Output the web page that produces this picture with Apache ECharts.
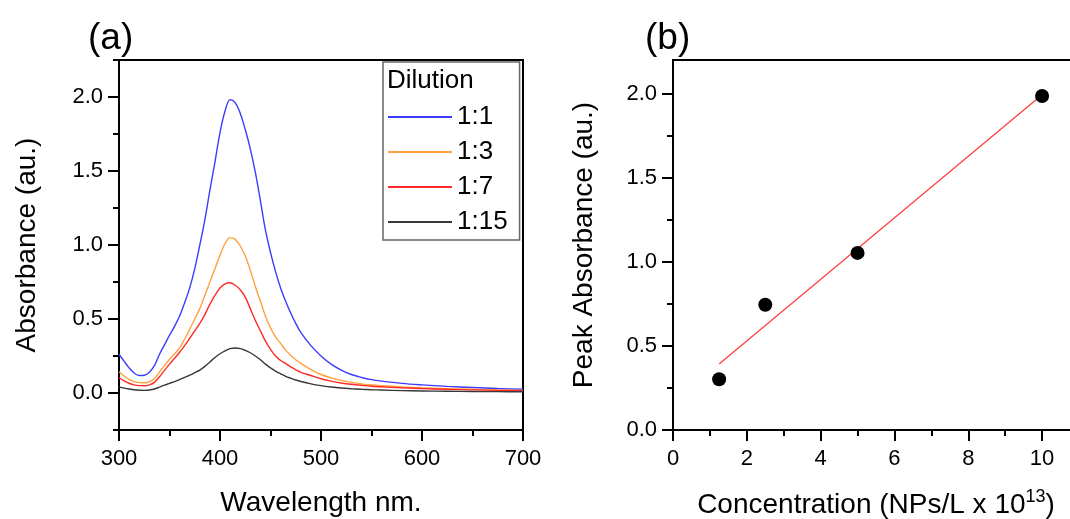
<!DOCTYPE html>
<html>
<head>
<meta charset="utf-8">
<script src="https://cdn.jsdelivr.net/npm/echarts@6/dist/echarts.min.js"></script>
<style>
html,body{margin:0;padding:0;background:#fff;}
#chart{width:1070px;height:519px;}
</style>
</head>
<body>
<div id="chart"></div>
<script>
// ---- Data ----
const wavelength = [300,305,310,315,320,325,330,335,340,345,350,355,360,365,370,375,380,385,390,395,400,405,410,415,420,425,430,435,440,445,450,455,460,465,470,475,480,490,500,510,520,530,540,550,560,580,600,625,650,675,700];
const dil1 = [0.262,0.215,0.170,0.135,0.118,0.120,0.140,0.185,0.260,0.325,0.390,0.450,0.520,0.610,0.710,0.840,1.000,1.170,1.370,1.560,1.760,1.905,1.982,1.962,1.890,1.780,1.650,1.490,1.300,1.100,0.950,0.820,0.710,0.620,0.540,0.470,0.410,0.320,0.250,0.195,0.155,0.125,0.105,0.090,0.080,0.065,0.055,0.045,0.037,0.030,0.025];
const dil3 = [0.143,0.115,0.092,0.077,0.070,0.069,0.076,0.097,0.140,0.185,0.228,0.265,0.305,0.365,0.430,0.500,0.570,0.660,0.750,0.840,0.930,1.010,1.050,1.038,0.995,0.925,0.830,0.720,0.620,0.520,0.440,0.380,0.335,0.290,0.255,0.225,0.200,0.158,0.125,0.102,0.085,0.072,0.062,0.055,0.049,0.041,0.035,0.029,0.025,0.021,0.018];
const dil7 = [0.103,0.082,0.066,0.055,0.050,0.049,0.055,0.072,0.108,0.153,0.195,0.235,0.275,0.320,0.370,0.420,0.470,0.530,0.600,0.660,0.710,0.738,0.745,0.728,0.698,0.648,0.570,0.490,0.420,0.350,0.295,0.250,0.220,0.200,0.176,0.157,0.140,0.118,0.096,0.080,0.068,0.059,0.052,0.046,0.042,0.035,0.030,0.025,0.021,0.018,0.015];
const dil15 = [0.040,0.033,0.027,0.022,0.019,0.018,0.020,0.027,0.040,0.053,0.065,0.077,0.090,0.105,0.120,0.137,0.155,0.180,0.210,0.240,0.265,0.285,0.300,0.304,0.300,0.288,0.272,0.250,0.225,0.195,0.170,0.148,0.130,0.113,0.100,0.088,0.078,0.062,0.050,0.041,0.034,0.029,0.025,0.022,0.020,0.016,0.014,0.012,0.010,0.009,0.008];
const dilutionNames = ['1:1','1:3','1:7','1:15'];

const concentration = [1.25, 2.5, 5, 10];
const peakAbsorbance = [0.302, 0.745, 1.053, 1.986];
const fitX = [1.25, 10];
const fitY = [0.392, 1.993];

// tick values
const xMajorA = [300,400,500,600,700];
const xMinorA = [350,450,550,650];
const yMajorA = [0,0.5,1,1.5,2];
const yMinorA = [-0.25,0.25,0.75,1.25,1.75,2.25];
const xMajorB = [0,2,4,6,8,10];
const xMinorB = [1,3,5,7,9,11];
const yMajorB = [0,0.5,1,1.5,2];
const yMinorB = [0.25,0.75,1.25,1.75];

const FONT = 'Liberation Sans, Arial, sans-serif';
const lineW = 2;

function pairs(xs, ys){ return xs.map((x,i)=>[x, ys[i]]); }

function axisPair(dim, gridIndex, min, max, major, minor, fmt, name, nameGap){
  const pos = dim === 'x' ? 'bottom' : 'left';
  const base = {
    type:'value', gridIndex, min, max, position: pos,
    splitLine:{show:false},
    axisLine:{onZero:false, lineStyle:{color:'#000', width:lineW}},
  };
  const a = Object.assign({}, base, {
    axisTick:{show:true, inside:false, length:6, customValues:minor.concat(major), lineStyle:{color:'#000', width:lineW}},
    axisLabel:{customValues:major, formatter:fmt, color:'#000', fontFamily:FONT, fontSize:22, margin: dim==='x'?18:16},
    name: name, nameLocation:'middle', nameGap: nameGap,
    nameTextStyle:{color:'#000', fontFamily:FONT, fontSize:28}
  });
  const b = Object.assign({}, base, {
    axisLine:{show:false, onZero:false},
    axisTick:{show:true, inside:false, length:11, customValues:major, lineStyle:{color:'#000', width:lineW}},
    axisLabel:{show:false}
  });
  return [a, b];
}

const xA = axisPair('x', 0, 300, 700, xMajorA, xMinorA, v=>String(v), 'Wavelength nm.', 59);
const yA = axisPair('y', 0, -0.25, 2.25, yMajorA, yMinorA, v=>v.toFixed(1), 'Absorbance (au.)', 78);
const xB = axisPair('x', 1, 0, 11, xMajorB, xMinorB, v=>String(v), '{n|Concentration (NPs/L x 10}{s|13}{n|)}', 58);
const yB = axisPair('y', 1, 0, 2.2, yMajorB, yMinorB, v=>v.toFixed(1), 'Peak Absorbance (au.)', 75);
xB[0].nameTextStyle = {color:'#000', fontFamily:FONT, fontSize:28,
  rich:{ n:{fontFamily:FONT, fontSize:28, color:'#000', lineHeight:34},
         s:{fontFamily:FONT, fontSize:18, color:'#000', verticalAlign:'top', lineHeight:18} } };

const colors = ['#3c3cff','#ffa13d','#ff2b2b','#383838'];
const dilSeries = [dil1, dil3, dil7, dil15].map((arr, i) => ({
  name: dilutionNames[i], type:'line', xAxisIndex:0, yAxisIndex:0,
  data: pairs(wavelength, arr), showSymbol:false, smooth:0.35,
  lineStyle:{color:colors[i], width:1.4}, itemStyle:{color:colors[i]}, z:3
}));

const option = {
  animation:false,
  backgroundColor:'#fff',
  textStyle:{fontFamily:FONT},
  title:[
    {text:'(a)', left:88, top:20, padding:0, textStyle:{fontFamily:FONT, fontSize:37, fontWeight:'normal', color:'#000'}},
    {text:'(b)', left:645, top:20, padding:0, textStyle:{fontFamily:FONT, fontSize:37, fontWeight:'normal', color:'#000'}},
    {text:'Dilution', left:387, top:68, padding:0, textStyle:{fontFamily:FONT, fontSize:26, fontWeight:'normal', color:'#000'}}
  ],
  grid:[
    {left:119, top:60, width:404, height:370, show:true, borderColor:'#000', borderWidth:lineW, backgroundColor:'transparent', containLabel:false, outerBoundsMode:'none'},
    {left:673, top:60, width:406, height:370, show:true, borderColor:'#000', borderWidth:lineW, backgroundColor:'transparent', containLabel:false, outerBoundsMode:'none'}
  ],
  xAxis:[xA[0], xA[1], xB[0], xB[1]],
  yAxis:[yA[0], yA[1], yB[0], yB[1]],
  legend:{
    data: dilutionNames, orient:'vertical', left:383, top:62,
    padding:[40,12,3,5], itemGap:5, itemWidth:64, itemHeight:2, icon:'rect',
    borderColor:'#666', borderWidth:1.5, backgroundColor:'#fff',
    textStyle:{fontFamily:FONT, fontSize:26, color:'#000', lineHeight:30}
  },
  series: dilSeries.concat([
    {name:'fit', type:'line', xAxisIndex:2, yAxisIndex:2, data:pairs(fitX, fitY), showSymbol:false,
     lineStyle:{color:'#ff3a3a', width:1.2}, z:2},
    {name:'peak', type:'scatter', xAxisIndex:2, yAxisIndex:2, data:pairs(concentration, peakAbsorbance),
     symbol:'circle', symbolSize:14, itemStyle:{color:'#000', opacity:1}, z:3}
  ])
};

const chart = echarts.init(document.getElementById('chart'), null, {renderer:'canvas'});
chart.setOption(option);
</script>
</body>
</html>
